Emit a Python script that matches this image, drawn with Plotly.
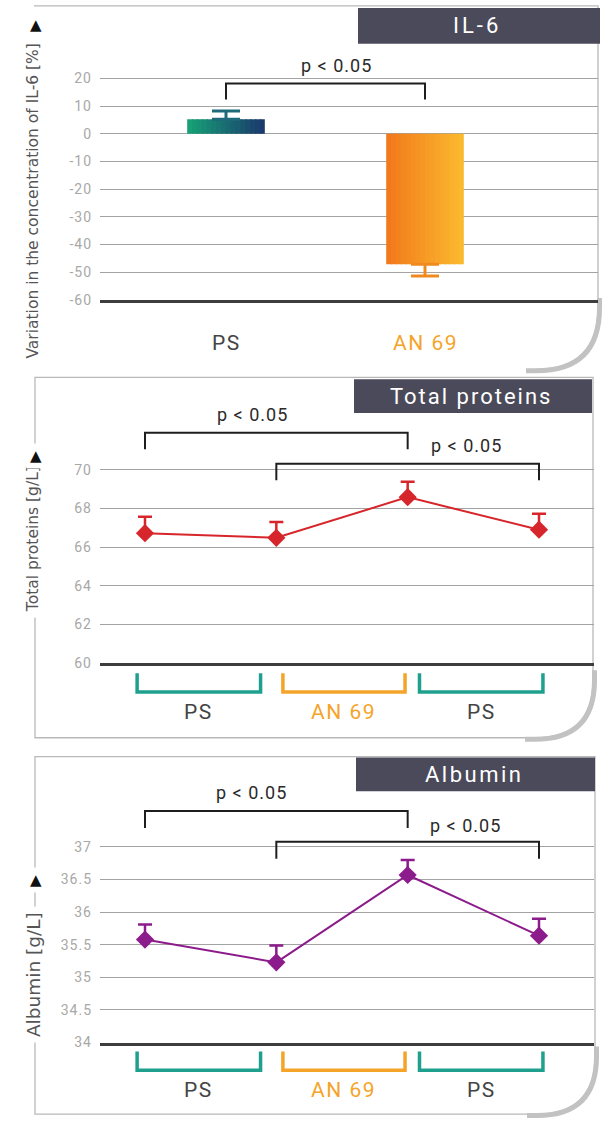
import plotly.graph_objects as go

# ---------------- data ----------------
il6_groups = ["PS", "AN 69"]
il6_change = [5.3, -47.1]            # variation of IL-6 concentration (%)
il6_err_up = [2.9, 0.0]
il6_err_down = [0.0, 4.3]
il6_ticks = [20, 10, 0, -10, -20, -30, -40, -50, -60]

sessions = [1, 2, 3, 4]
phase_labels = ["PS", "AN 69", "PS"]

protein = [66.72, 66.48, 68.58, 66.90]        # g/L
protein_err = [0.85, 0.82, 0.80, 0.82]
protein_ticks = [60, 62, 64, 66, 68, 70]

albumin = [35.58, 35.23, 36.57, 35.64]        # g/L
albumin_err = [0.23, 0.26, 0.23, 0.26]
albumin_ticks = [34, 34.5, 35, 35.5, 36, 36.5, 37]

sig_label = "p < 0.05"
il6_pairs = [(0, 1)]
session_pairs = [(1, 3), (2, 4)]

# ---------------- style / layout config ----------------
W, H = 603, 1130
FONT = "Roboto, 'Open Sans', sans-serif"
TFONT = "'DejaVu Sans', sans-serif"
HEADER_BG = "#4b4a5a"
GRID = "#a3a3a3"
BASE = "#3d3d3d"
TICKC = "#a8a8a8"
TEAL = "#1fa08e"
ORANGE = "#f5a42a"
RED = "#d7262b"
PURPLE = "#8c1b8c"
LABEL_DARK = "#444444"


def sp(txt, ls):
    return f"<span style='letter-spacing:{ls}px'>{txt}</span>"


def fx(px):
    return px / W


def fy(py):
    return 1 - py / H


def ydomain(v_lo, py_lo, v_ref, py_ref, r_hi):
    ppu = (py_lo - py_ref) / (v_ref - v_lo)
    top_px = py_lo - (r_hi - v_lo) * ppu
    return [fy(py_lo), fy(top_px)]


def xrange_from(px_lo, px_hi, v0, p0, v1, p1):
    ppu = (p1 - p0) / (v1 - v0)
    return [v0 - (p0 - px_lo) / ppu, v1 + (px_hi - p1) / ppu]


def tick_text(vals):
    return [sp("%g" % v, 1) for v in vals]


fig = go.Figure()

# ---------- panel 1: IL-6 bars with horizontal gradient ----------
il6_x = list(range(len(il6_groups)))
bar_w = 0.39
N = 16
grads = [("#179f76", "#1b3a6d"), ("#f27a1c", "#fbb92e")]


def lerp(c1, c2, t):
    a = [int(c1[i:i + 2], 16) for i in (1, 3, 5)]
    b = [int(c2[i:i + 2], 16) for i in (1, 3, 5)]
    return "rgb(%d,%d,%d)" % tuple(round(a[j] + (b[j] - a[j]) * t) for j in range(3))


for gi, val in zip(il6_x, il6_change):
    c1, c2 = grads[gi]
    for k in range(N):
        sw = bar_w / N
        fig.add_trace(go.Bar(
            x=[gi], y=[val], width=sw * (1.25 if k < N - 1 else 1.0),
            offset=-bar_w / 2 + k * sw,
            marker=dict(color=lerp(c1, c2, k / (N - 1)), line=dict(width=0)),
            xaxis="x", yaxis="y", showlegend=False, hoverinfo="skip"))

err_cols = ["#1e6a7a", "#f08a1e"]
for gi in il6_x:
    fig.add_trace(go.Scatter(
        x=[gi], y=[il6_change[gi]], mode="markers",
        marker=dict(color="rgba(0,0,0,0)", size=2),
        error_y=dict(type="data", symmetric=False, array=[il6_err_up[gi]],
                     arrayminus=[il6_err_down[gi]], color=err_cols[gi],
                     thickness=3, width=14),
        xaxis="x", yaxis="y", showlegend=False, hoverinfo="skip"))

# ---------- panel 2 & 3: line charts ----------
for vals, errs, col, xa, ya in [(protein, protein_err, RED, "x2", "y2"),
                                (albumin, albumin_err, PURPLE, "x3", "y3")]:
    fig.add_trace(go.Scatter(
        x=sessions, y=vals, mode="lines+markers",
        line=dict(color=col, width=2),
        marker=dict(symbol="diamond", size=14, color=col),
        error_y=dict(type="data", symmetric=False, array=errs,
                     arrayminus=[0] * len(errs), color=col, thickness=2.5, width=7),
        xaxis=xa, yaxis=ya, showlegend=False, hoverinfo="skip"))

# ---------- axes ----------
yax_common = dict(showgrid=True, gridcolor=GRID, gridwidth=1.4, zeroline=False,
                  showline=False, ticks="", tickfont=dict(family=FONT, size=14, color=TICKC),
                  ticklabelstandoff=7, fixedrange=True)
xax_common = dict(showgrid=False, zeroline=False, showticklabels=False, ticks="",
                  showline=True, linecolor=BASE, linewidth=3, fixedrange=True)

x1_range = xrange_from(100, 598, 0, 226, 1, 425)
x23_range = xrange_from(100, 594, 1, 145, 4, 539)

fig.update_layout(
    xaxis=dict(domain=[fx(100), fx(598)], range=x1_range, anchor="y", **xax_common),
    yaxis=dict(domain=ydomain(-60, 302, 20, 79, 28), range=[-60, 28], tickvals=il6_ticks,
               ticktext=tick_text(il6_ticks), anchor="x", **yax_common),
    xaxis2=dict(domain=[fx(100), fx(594)], range=x23_range, anchor="y2", **xax_common),
    yaxis2=dict(domain=ydomain(60, 668, 70, 473, 73.5), range=[60, 73.5], tickvals=protein_ticks,
                ticktext=tick_text(protein_ticks), anchor="x2", **yax_common),
    xaxis3=dict(domain=[fx(100), fx(594)], range=x23_range, anchor="y3", **xax_common),
    yaxis3=dict(domain=ydomain(34, 1050, 37, 853, 38.2), range=[34, 38.2], tickvals=albumin_ticks,
                ticktext=tick_text(albumin_ticks), anchor="x3", **yax_common),
    barmode="overlay",
    width=W, height=H,
    margin=dict(l=0, r=0, t=0, b=0),
    paper_bgcolor="white", plot_bgcolor="rgba(0,0,0,0)",
    font=dict(family=FONT),
)

shapes = []
annotations = []

# ---------- panel frames ----------
def frame(left, top, right, bottom, r, draw_bottom=True):
    path = (f"M {fx(left)},{fy(top)} L {fx(right)},{fy(top)} L {fx(right)},{fy(bottom - r)} "
            f"Q {fx(right)},{fy(bottom)} {fx(right - r)},{fy(bottom)} ")
    if draw_bottom:
        path += f"L {fx(left)},{fy(bottom)} Z"
    shapes.append(dict(type="path", xref="paper", yref="paper", path=path,
                       line=dict(color="#b9b9b9", width=1.3), layer="below"))
    # thick grey shadow along the rounded corner
    o = 1.5
    spath = (f"M {fx(right + o)},{fy(bottom - r - 10)} L {fx(right + o)},{fy(bottom - r)} "
             f"Q {fx(right + o)},{fy(bottom + o)} {fx(right - r)},{fy(bottom + o)} "
             f"L {fx(right - r - 10)},{fy(bottom + o)}")
    shapes.append(dict(type="path", xref="paper", yref="paper", path=spath,
                       line=dict(color="#c2c2c2", width=5), layer="below"))


frame(34, 6, 598, 372, 62, draw_bottom=False)
frame(35, 380, 593, 743, 58)
frame(35, 762, 595, 1122, 58)

# header boxes
for (x0, y0, x1, y1, txt, size, ls) in [(358, 8, 600, 44, "IL-6", 22, 3),
                                        (354, 382, 592, 416, "Total proteins", 22, 2),
                                        (356, 763, 595, 797, "Albumin", 22, 2.5)]:
    shapes.append(dict(type="rect", xref="paper", yref="paper",
                       x0=fx(x0), x1=fx(x1), y0=fy(y1), y1=fy(y0),
                       fillcolor=HEADER_BG, line=dict(width=0)))
    annotations.append(dict(xref="paper", yref="paper", x=fx((x0 + x1) / 2 - 2), y=fy((y0 + y1) / 2),
                            text=sp(txt, ls), showarrow=False, xanchor="center", yanchor="middle",
                            font=dict(family=FONT, size=size, color="white")))

# y-axis titles with arrows
for (cx, cy, txt, ay, size) in [(33, 203, "Variation in the concentration of IL-6 [%]", 25, 15.5),
                                (33, 543, "Total proteins [g/L]", 459, 15.5),
                                (33, 982, "Albumin [g/L]", 886, 18.5)]:
    annotations.append(dict(xref="paper", yref="paper", x=fx(cx), y=fy(cy), text=txt,
                            textangle=-90, showarrow=False, xanchor="center", yanchor="middle",
                            bgcolor="white", borderpad=5,
                            font=dict(family=TFONT, size=size, color="#555555")))
    annotations.append(dict(xref="paper", yref="paper", x=fx(cx + 3), y=fy(ay), text="▲",
                            showarrow=False, xanchor="center", yanchor="middle",
                            bgcolor="white", borderpad=3,
                            font=dict(family="DejaVu Sans", size=15, color="#111111")))

# ---------- significance brackets ----------
def bracket(xa, ya, xs, xe, y_top, y_bot, tx, ty):
    path = f"M {xs},{y_bot} L {xs},{y_top} L {xe},{y_top} L {xe},{y_bot}"
    shapes.append(dict(type="path", xref=xa, yref=ya, path=path,
                       line=dict(color="#1e1e1e", width=2)))
    annotations.append(dict(xref=xa, yref=ya, x=tx, y=ty, text=sp(sig_label, 1), showarrow=False,
                            xanchor="center", yanchor="middle",
                            font=dict(family=FONT, size=18, color="#2a2a2a")))


(a, b), = il6_pairs
bracket("x", "y", il6_x[a], il6_x[b], 18.2, 12.4, 0.555, 24.8)
(a1, b1), (a2, b2) = session_pairs
bracket("x2", "y2", a1, b1, 71.9, 71.05, 1.82, 72.87)
bracket("x2", "y2", a2, b2, 70.3, 69.45, 3.45, 71.25)
bracket("x3", "y3", a1, b1, 37.55, 37.29, 1.81, 37.84)
bracket("x3", "y3", a2, b2, 37.08, 36.82, 3.44, 37.33)

# ---------- category labels ----------
label_cols = {"PS": LABEL_DARK, "AN 69": ORANGE}
for gi, g in zip(il6_x, il6_groups):
    annotations.append(dict(xref="x", yref="paper", x=gi, y=fy(345), text=sp(g, 1.5), showarrow=False,
                            xanchor="center", yanchor="middle",
                            font=dict(family=FONT, size=21, color=label_cols[g])))

phase_spans = [(0.94, 1.88), (2.05, 2.98), (3.09, 4.03)]
phase_cols = {"PS": TEAL, "AN 69": ORANGE}
for (y_top, y_bot, y_lab, xa) in [(678, 697, 717, "x2"), (1059, 1078, 1098, "x3")]:
    for (s, e), lab in zip(phase_spans, phase_labels):
        path = f"M {s},{fy(y_top)} L {s},{fy(y_bot)} L {e},{fy(y_bot)} L {e},{fy(y_top)}"
        shapes.append(dict(type="path", xref=xa, yref="paper", path=path,
                           line=dict(color=phase_cols[lab], width=3.5)))
        annotations.append(dict(xref=xa, yref="paper", x=(s + e) / 2, y=fy(y_lab), text=sp(lab, 1.5),
                                showarrow=False, xanchor="center", yanchor="middle",
                                font=dict(family=FONT, size=21, color=label_cols[lab])))

fig.update_layout(shapes=shapes, annotations=annotations)
fig.write_html("out.html", config={"displayModeBar": False},
               post_script="document.body.style.margin='0px';document.body.style.overflow='hidden';")
